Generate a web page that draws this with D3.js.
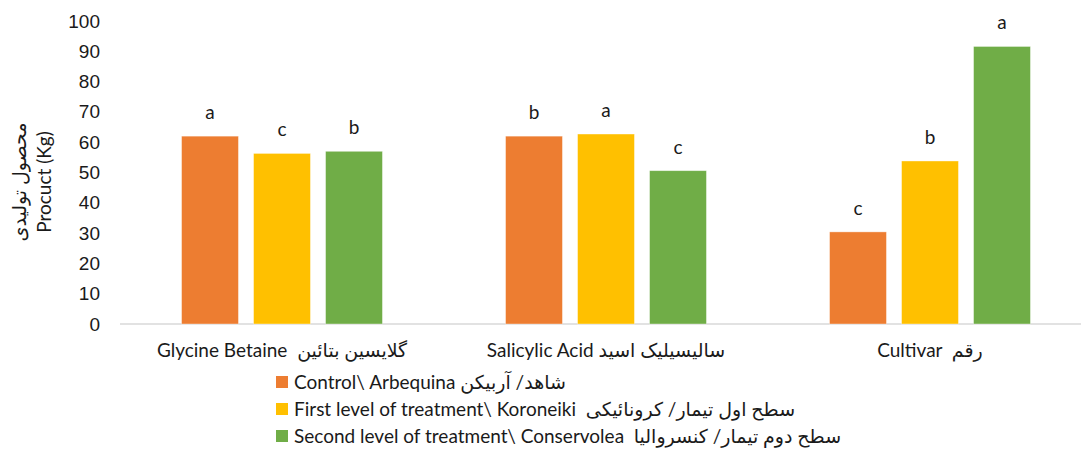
<!DOCTYPE html>
<html>
<head>
	<meta charset="utf-8">
	<title></title>
	<style type="text/css">
		body {
			margin: 0;
			background-color: #fff;
		}

		svg {
			display: block;
			background-color: #fff;
			font-family: Lato, 'Noto Sans', 'DejaVu Sans', sans-serif;
		}

		.axis text {
			fill: #1a1a1a;
			font-size: 19px;
		}

		.catLabel, .legendText, .yTitle, .letter {
			fill: #1a1a1a;
			font-size: 19px;
			white-space: pre;
		}
	</style>
	<script type="text/javascript" src="https://cdn.jsdelivr.net/npm/d3@7"></script>
</head>

<body>
	<div id='chart'></div>
	<script type="text/javascript">
		// data
		var groups = ['Glycine Betaine  گلایسین بتائین', 'Salicylic Acid سالیسیلیک اسید', 'Cultivar  رقم'];
		var seriesNames = [
			'Control\\ Arbequina شاهد/ آربیکن',
			'First level of treatment\\ Koroneiki  سطح اول تیمار/ کرونائیکی',
			'Second level of treatment\\ Conservolea  سطح دوم تیمار/ کنسروالیا'
		];
		var controlValues = [62.0, 62.0, 30.4];
		var firstValues = [56.3, 62.7, 53.8];
		var secondValues = [57.0, 50.6, 91.6];
		var controlLetters = ['a', 'b', 'c'];
		var firstLetters = ['c', 'a', 'b'];
		var secondLetters = ['b', 'c', 'a'];
		var yTicks = [0, 10, 20, 30, 40, 50, 60, 70, 80, 90, 100];
		var colors = ['#ED7D31', '#FFC000', '#70AD47'];

		var width = 1081, height = 455;
		var plotLeft = 120, plotRight = 1092, plotTop = 21, plotBottom = 324;

		var allValues = [controlValues, firstValues, secondValues];
		var allLetters = [controlLetters, firstLetters, secondLetters];

		var data = [];
		groups.forEach(function(g, gi){
			seriesNames.forEach(function(s, si){
				data.push({group: g, series: s, si: si, value: allValues[si][gi], letter: allLetters[si][gi]});
			});
		});

		var svg = d3.select('#chart')
			.append('svg')
			.attr('width', width)
			.attr('height', height);

		var x0 = d3.scaleBand()
			.domain(groups)
			.range([plotLeft, plotRight]);

		var x1 = d3.scaleBand()
			.domain(seriesNames)
			.range([0, x0.bandwidth()])
			.paddingInner(0.21)
			.paddingOuter(0.855);

		var yScale = d3.scaleLinear()
			.domain([0, 100])
			.range([plotBottom, plotTop]);

		var cScale = d3.scaleOrdinal()
			.domain(seriesNames)
			.range(colors);

		// y axis: labels only
		var yAxis = d3.axisLeft(yScale)
			.tickValues(yTicks)
			.tickSize(0)
			.tickPadding(0);

		svg.append('g')
			.attr('class', 'axis')
			.attr('transform', 'translate(100,0)')
			.call(yAxis)
			.call(function(g){ g.select('.domain').remove(); });

		// baseline
		svg.append('line')
			.attr('x1', plotLeft)
			.attr('x2', width)
			.attr('y1', yScale(0))
			.attr('y2', yScale(0))
			.attr('stroke', '#d9d9d9')
			.attr('stroke-width', 1.3);

		svg.selectAll('.bar')
			.data(data)
			.enter()
			.append('rect')
			.attr('class', 'bar')
			.attr('x', function(d){ return x0(d.group) + x1(d.series); })
			.attr('y', function(d){ return yScale(d.value); })
			.attr('width', x1.bandwidth())
			.attr('height', function(d){ return yScale(0) - yScale(d.value); })
			.attr('fill', function(d){ return cScale(d.series); })
			.attr('stroke', '#fff')
			.attr('stroke-opacity', 0.5)
			.attr('stroke-width', 0.75);

		svg.selectAll('.letter')
			.data(data)
			.enter()
			.append('text')
			.attr('class', 'letter')
			.attr('x', function(d){ return x0(d.group) + x1(d.series) + x1.bandwidth()/2; })
			.attr('y', function(d){ return yScale(d.value) - 17; })
			.attr('text-anchor', 'middle')
			.text(function(d){ return d.letter; });

		// category labels
		svg.selectAll('.catLabel')
			.data(groups)
			.enter()
			.append('text')
			.attr('class', 'catLabel')
			.attr('x', function(d){ return x0(d) + x0.bandwidth()/2; })
			.attr('y', 357)
			.attr('text-anchor', 'middle')
			.text(function(d){ return d; });

		// y title, two rotated lines
		var yTitle = svg.append('text')
			.attr('class', 'yTitle')
			.attr('transform', 'translate(26,182) rotate(-90)')
			.attr('text-anchor', 'middle');
		yTitle.append('tspan').attr('x', 0).attr('y', 0).text('محصول تولیدی');
		yTitle.append('tspan').attr('x', 0).attr('y', 25).text('Procuct (Kg)');

		// legend
		var legend = svg.selectAll('.legendItem')
			.data(seriesNames)
			.enter()
			.append('g')
			.attr('class', 'legendItem')
			.attr('transform', function(d, i){ return 'translate(276,' + (382 + i*27) + ')'; });

		legend.append('rect')
			.attr('x', 0)
			.attr('y', -6)
			.attr('width', 12)
			.attr('height', 12)
			.attr('fill', function(d){ return cScale(d); });

		legend.append('text')
			.attr('class', 'legendText')
			.attr('x', 18)
			.attr('y', 7)
			.text(function(d){ return d; });
	</script>

</body>
</html>
